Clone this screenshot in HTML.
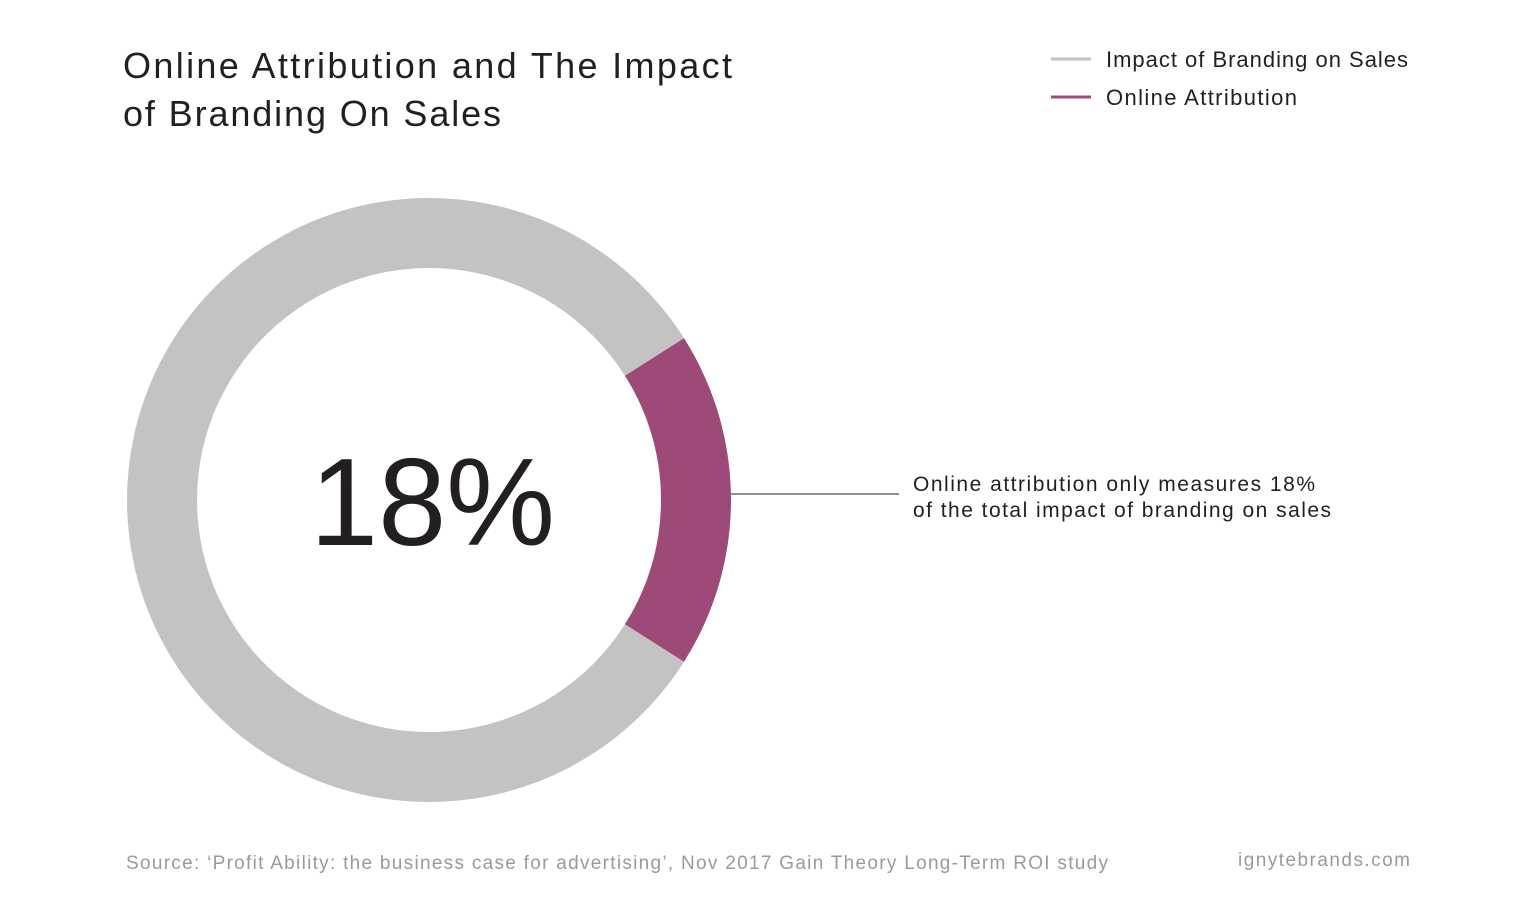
<!DOCTYPE html>
<html><head><meta charset="utf-8"><style>
body{margin:0;background:#fff;width:1536px;height:919px;overflow:hidden;font-family:"Liberation Sans",sans-serif;}
</style></head><body>
<svg width="1536" height="919">
<text x="123" y="78" font-size="36" fill="#231f20" textLength="609" lengthAdjust="spacing">Online Attribution and The Impact</text>
<text x="123" y="126" font-size="36" fill="#231f20" textLength="378" lengthAdjust="spacing">of Branding On Sales</text>
<g>
<line x1="1051" y1="59" x2="1091" y2="59" stroke="#c4c3c3" stroke-width="3"/>
<text x="1106" y="67" font-size="22" fill="#231f20" textLength="302" lengthAdjust="spacing">Impact of Branding on Sales</text>
<line x1="1051" y1="97" x2="1091" y2="97" stroke="#9e4a78" stroke-width="3"/>
<text x="1106" y="105" font-size="22" fill="#231f20" textLength="191" lengthAdjust="spacing">Online Attribution</text>
</g>
<g id="donut"></g>
<text x="310" y="545" font-size="124" fill="#231f20" textLength="245" lengthAdjust="spacingAndGlyphs">18%</text>
<line x1="731" y1="494" x2="899" y2="494" stroke="#231f20" stroke-width="1"/>
<text x="913" y="491" font-size="21" fill="#231f20" textLength="402" lengthAdjust="spacing">Online attribution only measures 18%</text>
<text x="913" y="517" font-size="21" fill="#231f20" textLength="418" lengthAdjust="spacing">of the total impact of branding on sales</text>
<text x="126" y="869" font-size="19" fill="#9a9a9a" textLength="982" lengthAdjust="spacing">Source: ‘Profit Ability: the business case for advertising’, Nov 2017 Gain Theory Long-Term ROI study</text>
<text x="1238" y="866" font-size="19" fill="#9a9a9a" textLength="172" lengthAdjust="spacing">ignytebrands.com</text>
</svg>
<script>
const categories=["Impact of Branding on Sales","Online Attribution"];
const values=[82,18];
const colors=["#c4c3c3","#9e4a78"];
const cx=429,cy=500,R=302,r=232;
const g=document.getElementById('donut');
const total=values.reduce((a,b)=>a+b,0);
let start=-(values[1]/total)*Math.PI;
const order=[1,0];
function pt(rad,a){return [cx+rad*Math.cos(a),cy+rad*Math.sin(a)];}
order.forEach(i=>{
  const sweep=values[i]/total*2*Math.PI;
  const a0=start,a1=start+sweep;
  const large=sweep>Math.PI?1:0;
  const p0=pt(R,a0),p1=pt(R,a1),p2=pt(r,a1),p3=pt(r,a0);
  const p=document.createElementNS('http://www.w3.org/2000/svg','path');
  p.setAttribute('d',`M${p0[0]},${p0[1]}A${R},${R} 0 ${large} 1 ${p1[0]},${p1[1]}L${p2[0]},${p2[1]}A${r},${r} 0 ${large} 0 ${p3[0]},${p3[1]}Z`);
  p.setAttribute('fill',colors[i]);
  
  
  g.appendChild(p);
  start=a1;
});
</script>
</body></html>
